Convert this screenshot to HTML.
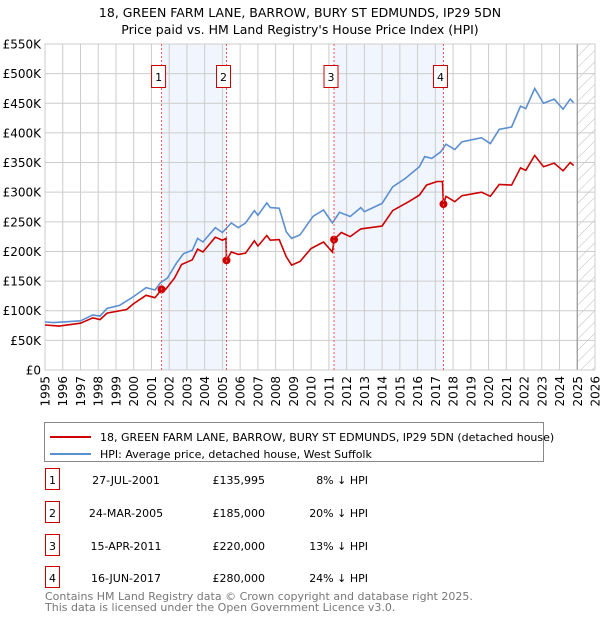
<!DOCTYPE html>
<html><head><meta charset="utf-8">
<style>
body{margin:0;background:#fff;font-family:"DejaVu Sans","Liberation Sans",sans-serif;}
#wrap{position:relative;width:600px;height:620px;overflow:hidden;}
svg text{font-family:"DejaVu Sans","Liberation Sans",sans-serif;}
</style></head>
<body>
<div id="wrap">
<svg id="chart" width="600" height="620">
<text x="300" y="17" text-anchor="middle" font-size="12.5">18, GREEN FARM LANE, BARROW, BURY ST EDMUNDS, IP29 5DN</text>
<text x="300" y="34" text-anchor="middle" font-size="12.5">Price paid vs. HM Land Registry's House Price Index (HPI)</text>
<g id="bg"></g><g id="grid"></g><g id="axes"></g><g id="series"></g><g id="marks"></g>
<g>
<rect x="44.5" y="422.5" width="499" height="39" fill="#fff" stroke="#888"/>
<line x1="50" y1="437" x2="91" y2="437" stroke="#cc0000" stroke-width="2"/>
<text x="100" y="441" font-size="11">18, GREEN FARM LANE, BARROW, BURY ST EDMUNDS, IP29 5DN (detached house)</text>
<line x1="50" y1="454" x2="91" y2="454" stroke="#5b8fd0" stroke-width="2"/>
<text x="100" y="458" font-size="11">HPI: Average price, detached house, West Suffolk</text>
</g>
<g id="table" font-size="11"></g>
<text x="45" y="600" font-size="11" fill="#777">Contains HM Land Registry data © Crown copyright and database right 2025.</text>
<text x="45" y="611" font-size="11" fill="#777">This data is licensed under the Open Government Licence v3.0.</text>
</svg>
</div>
<script>
const yTicks=[0,50,100,150,200,250,300,350,400,450,500,550];
const yTickLabels=["£0","£50K","£100K","£150K","£200K","£250K","£300K","£350K","£400K","£450K","£500K","£550K"];
const xYears=[1995,1996,1997,1998,1999,2000,2001,2002,2003,2004,2005,2006,2007,2008,2009,2010,2011,2012,2013,2014,2015,2016,2017,2018,2019,2020,2021,2022,2023,2024,2025,2026];
const hpiYears=[1995.0,1995.5,1997.0,1997.7,1998.1,1998.5,1999.2,2000.0,2000.7,2001.2,2001.5,2001.9,2002.4,2002.8,2003.3,2003.6,2003.9,2004.6,2005.0,2005.5,2005.9,2006.3,2006.8,2007.0,2007.5,2007.7,2008.2,2008.6,2008.9,2009.37,2010.1,2010.7,2011.2,2011.6,2012.2,2012.8,2013.0,2014.0,2014.6,2015.3,2016.1,2016.4,2016.8,2017.3,2017.6,2018.1,2018.5,2019.6,2020.1,2020.6,2021.3,2021.8,2022.1,2022.6,2023.1,2023.7,2024.2,2024.6,2024.8];
const hpiValues=[81,80,83,93,91,104,109,124,139,135,147,155,180,196,202,222,216,240,232,248,240,248,269,261,282,274,273,233,222,228,259,270,248,266,259,274,267,281,309,323,343,360,357,368,381,372,385,392,382,406,410,445,441,475,450,457,440,457,451];
const priceYears=[1995.0,1995.8,1997.0,1997.7,1998.1,1998.5,1999.6,2000.0,2000.7,2001.2,2001.57,2001.8,2002.3,2002.7,2003.3,2003.6,2003.9,2004.6,2005.0,2005.2,2005.23,2005.5,2005.9,2006.3,2006.8,2007.0,2007.5,2007.7,2008.2,2008.6,2008.9,2009.37,2010.0,2010.7,2011.2,2011.29,2011.7,2012.2,2012.8,2014.0,2014.6,2015.5,2016.1,2016.5,2017.1,2017.4,2017.46,2017.6,2018.1,2018.5,2019.6,2020.1,2020.6,2021.3,2021.8,2022.1,2022.6,2023.1,2023.7,2024.2,2024.6,2024.8];
const priceValues=[76,74,79,88,85,96,102,112,126,122,136,136,155,178,186,204,199,224,219,222,185,199,195,197,218,209,227,219,220,191,177,183,205,216,199,220,232,225,238,243,269,284,295,312,318,318,280,293,284,294,300,293,313,312,341,337,362,343,349,336,350,345];
const saleYears=[2001.57,2005.23,2011.29,2017.46];
const saleValues=[135.995,185,220,280];
const saleLabels=["1","2","3","4"];
const saleDates=["27-JUL-2001","24-MAR-2005","15-APR-2011","16-JUN-2017"];
const salePrices=["£135,995","£185,000","£220,000","£280,000"];
const saleDiffs=["8% ↓ HPI","20% ↓ HPI","13% ↓ HPI","24% ↓ HPI"];

const X0=45,X1=595,Y0=370,Y1=44;
const xs=y=>X0+(y-1995)/(2026-1995)*(X1-X0);
const ys=v=>Y0-v/550*(Y0-Y1);
const NS="http://www.w3.org/2000/svg";
function mk(tag,attrs,parent,txt){const e=document.createElementNS(NS,tag);for(const k in attrs)e.setAttribute(k,attrs[k]);if(txt!==undefined)e.textContent=txt;parent.appendChild(e);return e;}
const bg=document.getElementById('bg'),grid=document.getElementById('grid'),axes=document.getElementById('axes'),series=document.getElementById('series'),marks=document.getElementById('marks'),table=document.getElementById('table');

for(let i=0;i<saleYears.length;i+=2){
 const r=mk('rect',{x:xs(saleYears[i]),y:Y1,width:xs(saleYears[i+1])-xs(saleYears[i]),height:Y0-Y1,fill:'#eef3fc',opacity:0.8},bg);
 
 
}
const defs=mk('defs',{},bg);
const pat=mk('pattern',{id:'hatch',width:8,height:8,patternUnits:'userSpaceOnUse',patternTransform:'rotate(45)'},defs);
mk('line',{x1:0,y1:0,x2:0,y2:8,stroke:'#bbb','stroke-width':1},pat);
const hx=xs(2025.0);
const hr=mk('rect',{x:hx,y:Y1,width:X1-hx,height:Y0-Y1,fill:'url(#hatch)'},bg);



yTicks.forEach((t,i)=>{
 const l=mk('line',{x1:X0,x2:X1,y1:ys(t),y2:ys(t),stroke:'#cccccc','stroke-width':1},grid);
 
 
 const tx=mk('text',{x:41,y:ys(t)+4.5,'text-anchor':'end','font-size':12},axes,yTickLabels[i]);
 
 
});
xYears.forEach(yr=>{
 const l=mk('line',{x1:xs(yr),x2:xs(yr),y1:Y1,y2:Y0,stroke:'#cccccc','stroke-width':1},grid);
 
 
 const tx=mk('text',{x:0,y:0,'text-anchor':'end','font-size':12,transform:`translate(${xs(yr)+4.5},${Y0+6}) rotate(-90)`},axes,String(yr));
 
 
});
const vline=mk('line',{x1:hx,x2:hx,y1:Y1,y2:Y0,stroke:'#999','stroke-width':1.2},grid);



saleYears.forEach((yr,i)=>{
 const l=mk('line',{x1:xs(yr),x2:xs(yr),y1:Y1,y2:Y0,stroke:'#ee5555','stroke-width':1,'stroke-dasharray':'2,2'},marks);
 
 
 const b=mk('rect',{x:xs(yr)-10,y:65.5,width:14,height:22,fill:'#fff',stroke:'#cc0000'},marks);
 
 
 const t=mk('text',{x:xs(yr)-3,y:81,'text-anchor':'middle','font-size':11},marks,saleLabels[i]);
 
 
});

const pts=(a,b)=>a.map((y,i)=>xs(y).toFixed(1)+','+ys(b[i]).toFixed(1)).join(' ');
const hp=mk('polyline',{points:pts(hpiYears,hpiValues),fill:'none',stroke:'#5b8fd0','stroke-width':1.6},series);


const pp=mk('polyline',{points:pts(priceYears,priceValues),fill:'none',stroke:'#cc0000','stroke-width':1.6},series);


saleYears.forEach((yr,i)=>{
 const c=mk('circle',{cx:xs(yr),cy:ys(saleValues[i]),r:4,fill:'#cc0000'},series);
 
 
});
const axl=mk('rect',{x:X0,y:Y1,width:X1-X0,height:Y0-Y1,fill:'none',stroke:'#ccc'},axes);



const rowY=[481,514,547,579];
saleLabels.forEach((s,i)=>{
 const y=rowY[i];
 const b=mk('rect',{x:45.5,y:y-12.5,width:14,height:21,fill:'#fff',stroke:'#cc0000'},table);
 
 
 const t0=mk('text',{x:52.5,y:y+3,'text-anchor':'middle'},table,s);
 
 
 const t1=mk('text',{x:126,y:y+3,'text-anchor':'middle'},table,saleDates[i]);
 
 
 const t2=mk('text',{x:265,y:y+3,'text-anchor':'end'},table,salePrices[i]);
 
 
 const t3=mk('text',{x:368,y:y+3,'text-anchor':'end'},table,saleDiffs[i]);
 
 
});
</script>
</body></html>
